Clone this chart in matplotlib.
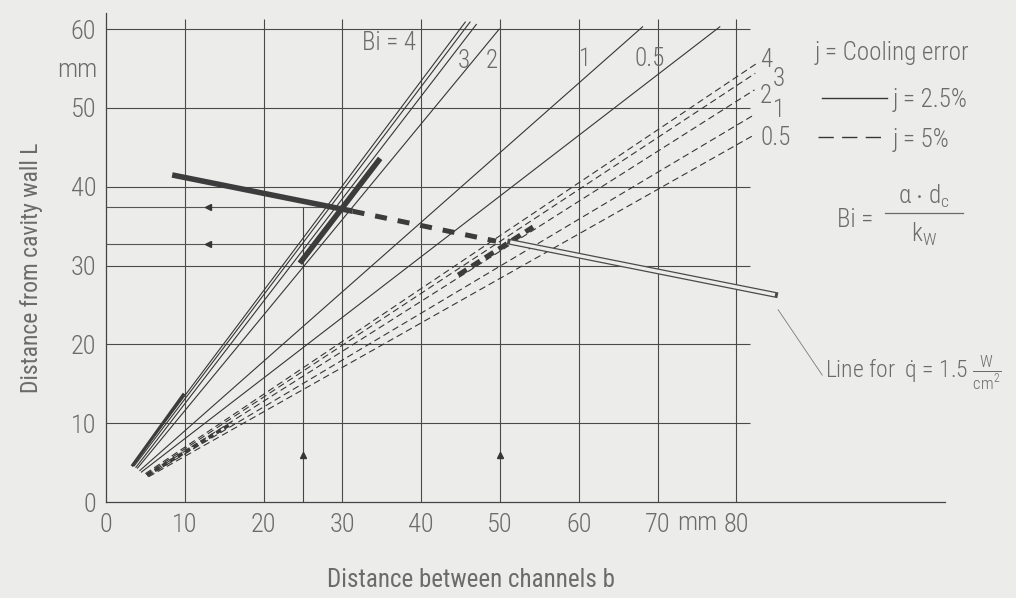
import matplotlib.pyplot as plt
from matplotlib import font_manager

# pick a narrow sans if one is installed, else Roboto (light)
available = sorted({f.name for f in font_manager.fontManager.ttflist})
narrow = [n for n in available if 'Condensed' in n or 'Narrow' in n]
preferred = ['Roboto Condensed', 'Noto Sans Condensed', 'DejaVu Sans Condensed',
             'Liberation Sans Narrow', 'Open Sans Condensed']
pick = [n for n in preferred if n in available] + narrow + ['Roboto']
font = pick[0]

plt.rcParams['font.family'] = [font, 'DejaVu Sans']
plt.rcParams['font.weight'] = 'light'
plt.rcParams['mathtext.fontset'] = 'custom'
plt.rcParams['mathtext.rm'] = font + ':light'
plt.rcParams['mathtext.it'] = font + ':light'

# axis ticks
x_ticks = [0, 10, 20, 30, 40, 50, 60, 70, 80]
y_ticks = [0, 10, 20, 30, 40, 50, 60]

# j = 2.5 % curves (solid), start / end points
solid_x0 = [3.4, 3.6, 3.8, 4.0, 4.3, 4.5]
solid_y0 = [4.7, 4.6, 4.4, 4.3, 4.0, 3.8]
solid_x1 = [45.6, 46.2, 47.0, 49.9, 68.1, 77.9]
solid_y1 = [60.9, 60.9, 60.6, 60.0, 60.3, 60.3]
solid_labels = ['Bi = 4', '3', '2', '1', '0.5']

# j = 5 % curves (dashed)
dash_x0 = [5.0, 5.1, 5.2, 5.3, 5.4]
dash_y0 = [3.6, 3.5, 3.4, 3.3, 3.2]
dash_x1 = [82.5, 82.4, 82.3, 82.2, 82.3]
dash_y1 = [55.6, 54.4, 52.3, 49.1, 46.6]
dash_labels = ['4', '3', '2', '1', '0.5']

# line for q = 1.5 W/cm2
q_solid_x = [8.4, 31.3]
q_solid_y = [41.5, 36.9]
q_dash_x = [31.3, 49.5]
q_dash_y = [36.9, 33.1]
q_bar_x = [51.3, 84.9]
q_bar_y = [33.0, 26.3]

# hand drawn bold parts
bold_solid_x = [24.6, 34.8]
bold_solid_y = [30.3, 43.6]
bold_solid_start_x = [3.4, 9.8]
bold_solid_start_y = [4.7, 13.6]
bold_dash_x = [44.7, 54.2]
bold_dash_y = [28.8, 34.9]
bold_dash_start_x = [5.2, 16.0]
bold_dash_start_y = [3.4, 10.0]

# read-off guides
guide_y = [37.4, 32.7]
guide_x_end = [28.5, 50.0]
guide_v_x = 25
guide_v_top = 37.4
arrow_up_x = [25, 50]

bg = '#ececeb'
ink = '#363636'
txt = '#6b6b6b'
fs = 18

fig = plt.figure(figsize=(10.16, 5.98), dpi=100, facecolor=bg)
ax = fig.add_axes([0.1043, 0.1605, 0.8260, 0.8171])
ax.set_facecolor(bg)
ax.set_xlim(0, 106.5)
ax.set_ylim(0, 62)
for s in ['top', 'right']:
    ax.spines[s].set_visible(False)
for s in ['left', 'bottom']:
    ax.spines[s].set_color('#444444')
    ax.spines[s].set_linewidth(0.9)

ax.set_xticks(x_ticks)
ax.set_yticks(y_ticks)
ax.tick_params(length=0, labelsize=19, labelcolor=txt)
ax.tick_params(axis='x', pad=8)
ax.tick_params(axis='y', pad=7)
ax.text(75, -1.2, 'mm', fontsize=19, color=txt, ha='center', va='top')
ax.text(-1.15, 54.8, 'mm', fontsize=19, color=txt, ha='right', va='center')

ax.set_xlabel('Distance between channels b', fontsize=fs, color=txt)
ax.xaxis.set_label_coords(0.435, -0.135)
ax.set_ylabel('Distance from cavity wall L', fontsize=17, color=txt)
ax.yaxis.set_label_coords(-0.075, 0.48)

# grid (does not fill the whole axes)
ax.vlines(x_ticks[1:], 0, 61.3, color='#4a4a4a', lw=0.8)
ax.hlines(y_ticks[1:], 0, 81.7, color='#4a4a4a', lw=0.8)

# guides and arrows
ax.hlines(guide_y, 0, guide_x_end, color='#555555', lw=0.8)
ax.vlines(guide_v_x, 0, guide_v_top, color='#444444', lw=0.8)
ax.plot([13, 13], guide_y, '<', color=ink, ms=4, ls='none')
ax.plot(arrow_up_x, [6, 6], '^', color=ink, ms=5, ls='none')

# solid family
for i in range(len(solid_x0)):
    ax.plot([solid_x0[i], solid_x1[i]], [solid_y0[i], solid_y1[i]], color=ink, lw=0.8)
label_x = [39.3, 45.4, 49.0, 60.8, 69.0]
label_y = [58.2, 56.0, 56.0, 56.2, 56.2]
for i, lab in enumerate(solid_labels):
    ax.text(label_x[i], label_y[i], lab, fontsize=fs, color=txt,
            ha='right' if i == 0 else 'center', va='center')

# dashed family
for i in range(len(dash_x0)):
    ax.plot([dash_x0[i], dash_x1[i]], [dash_y0[i], dash_y1[i]], color=ink, lw=0.8,
            dashes=(6, 3.5))
dlabel_x = [83.0, 84.6, 83.0, 84.6, 83.0]
dlabel_y = [56.1, 53.7, 51.5, 49.7, 46.2]
for i, lab in enumerate(dash_labels):
    ax.text(dlabel_x[i], dlabel_y[i], lab, fontsize=fs, color=txt, ha='left', va='center')

# bold hand drawn parts
ax.plot(q_solid_x, q_solid_y, color='#3c3c3c', lw=4, solid_capstyle='butt')
ax.plot(bold_solid_x, bold_solid_y, color='#3c3c3c', lw=4, solid_capstyle='butt')
ax.plot(bold_solid_start_x, bold_solid_start_y, color='#3c3c3c', lw=2.2)
ax.plot(q_dash_x, q_dash_y, color='#3c3c3c', lw=3.6, dashes=(2.4, 2.2))
ax.plot(bold_dash_x, bold_dash_y, color='#3c3c3c', lw=3.6, dashes=(2.0, 1.2))
ax.plot(bold_dash_start_x, bold_dash_start_y, color='#3c3c3c', lw=2.6, dashes=(1.5, 1.0))

# hollow bar
ax.plot(q_bar_x, q_bar_y, color='#4a4a4a', lw=4.2, solid_capstyle='projecting')
ax.plot(q_bar_x, q_bar_y, color=bg, lw=2.4, solid_capstyle='butt')
ax.plot([85.3, 90.9], [24.4, 16.1], color='#7a7a7a', lw=0.6)
ax.text(91.2, 16.4, 'Line for  q\u0307 = 1.5 ' + r'$\frac{W}{cm^2}$', fontsize=17,
        color=txt, ha='left', va='center', clip_on=False)

# key on the right
ax.text(90.0, 57.0, 'j = Cooling error', fontsize=fs, color=txt, ha='left', va='center')
ax.plot([90.9, 99.1], [51.3, 51.3], color=ink, lw=1.0)
ax.text(99.9, 51.0, 'j = 2.5%', fontsize=fs, color=txt, ha='left', va='center')
ax.plot([90.4, 99.2], [46.3, 46.3], color=ink, lw=1.0, dashes=(11, 6))
ax.text(99.9, 45.9, 'j = 5%', fontsize=fs, color=txt, ha='left', va='center')
ax.text(92.8, 35.8, 'Bi =', fontsize=fs, color=txt, ha='left', va='center')
ax.plot([98.9, 108.8], [36.7, 36.7], color=txt, lw=0.9, clip_on=False)
ax.text(103.8, 38.8, r'$\alpha$ $\cdot$ d$_\mathrm{c}$', fontsize=fs, color=txt,
        ha='center', va='center', clip_on=False)
ax.text(103.8, 34.0, r'k$_\mathrm{W}$', fontsize=fs, color=txt,
        ha='center', va='center', clip_on=False)

fig.savefig('out.png', dpi=100, facecolor=bg)
